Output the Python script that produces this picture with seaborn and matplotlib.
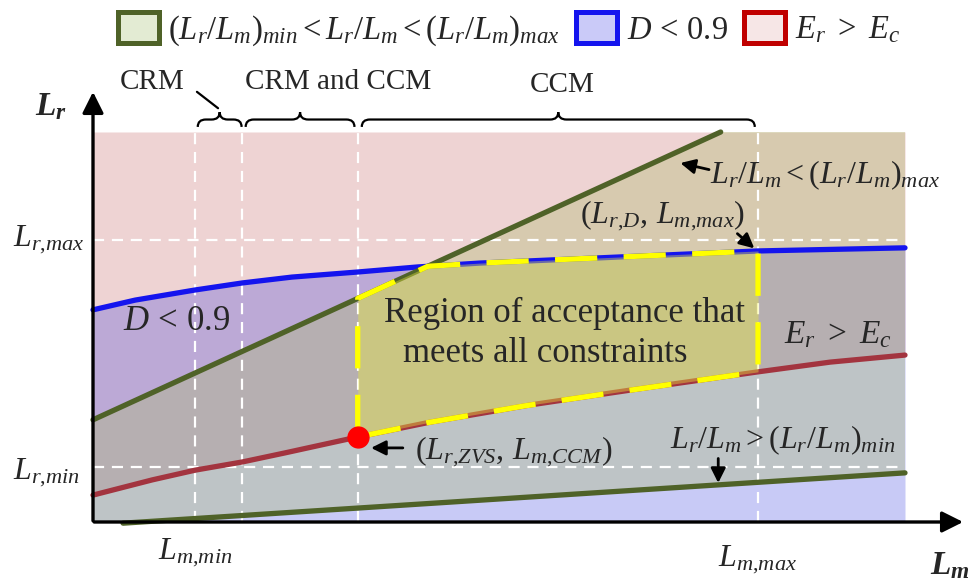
import numpy as np
import pandas as pd
import matplotlib
matplotlib.use("Agg")
import matplotlib.pyplot as plt
from matplotlib.patches import Patch, PathPatch
from matplotlib.path import Path
import seaborn as sns

# boundary curves, Lm on x and Lr on y (normalised units, design box is 0..10)
lm_blue = [0.0, 0.52, 1.26, 1.84, 2.45, 3.26, 4.0, 4.77, 8.19, 10.0]
lr_blue = [5.44, 5.69, 5.95, 6.13, 6.28, 6.41, 6.54, 6.64, 6.95, 7.03]   # D < 0.9

lm_red = [0.0, 0.73, 1.26, 1.84, 2.36, 3.26, 4.15, 5.38, 6.61, 8.19, 9.08, 10.0]
lr_red = [0.69, 1.08, 1.33, 1.54, 1.77, 2.18, 2.56, 3.0, 3.38, 3.85, 4.10, 4.28]  # Er > Ec

lm_gmax = [0.0, 7.73]
lr_gmax = [2.62, 10.0]                                          # (Lr/Lm)max
lm_gmin = [0.37, 10.0]
lr_gmin = [-0.03, 1.26]                                         # (Lr/Lm)min

lm_marks = [1.26, 1.84, 3.26, 8.19]   # Lm,min | CRM/CCM edge | Lm,CCM | Lm,max
lr_marks = [1.41, 7.23]               # Lr,min, Lr,max
box = 10.0

sns.set_theme(style="white")
plt.rcParams.update({
    "font.family": ["Liberation Serif", "DejaVu Serif"],
    "mathtext.fontset": "custom",
    "mathtext.rm": "Liberation Serif",
    "mathtext.it": "Liberation Serif:italic",
    "mathtext.bf": "Liberation Serif:bold",
    "mathtext.bfit": "Liberation Serif:italic:bold",
})

GREEN = "#4F6228"
BLUE = "#1414EE"
RED = "#A3343F"

fig = plt.figure(figsize=(9.68, 5.83), dpi=100)
ax = fig.add_axes([0, 0, 1, 1])
ax.set_xlim(-93 / 81.2, (968 - 93) / 81.2)
ax.set_ylim(-(583 - 522) / 39, 522 / 39)
ax.axis("off")

# shaded constraint regions (layered with alpha)
ax.fill_between(lm_red, lr_red, box, color=(170/255, 35/255, 35/255), alpha=0.2, lw=0, zorder=1)
ax.fill_between(lm_blue, 0, lr_blue, color=(39/255, 47/255, 223/255), alpha=0.25, lw=0, zorder=1)
gx = np.concatenate([[0.0], lm_gmin, [box, lm_gmax[1], lm_gmax[0]]])
gy = np.concatenate([[0.0], lr_gmin, [box, lr_gmax[1], lr_gmax[0]]])
ax.fill(gx, gy, color=(173/255, 187/255, 108/255), alpha=0.34, lw=0, zorder=1)

# white dashed guides
for y in lr_marks:
    ax.plot([0, box], [y, y], color="white", lw=1.6, ls=(0, (5, 3.5)), zorder=2)
for x in lm_marks:
    ax.plot([x, x], [0, box], color="white", lw=1.6, ls=(0, (5, 3.5)), zorder=2)

# curves
curves = [(lm_blue, lr_blue, BLUE), (lm_red, lr_red, RED),
          (lm_gmax, lr_gmax, GREEN), (lm_gmin, lr_gmin, GREEN)]
for xs, ys, c in curves:
    df = pd.DataFrame({"Lm": xs, "Lr": ys})
    sns.lineplot(data=df, x="Lm", y="Lr", color=c, lw=3.8, ax=ax, zorder=3,
                 solid_capstyle="round", solid_joinstyle="round")

# region of acceptance
grid = np.linspace(lm_marks[2], lm_marks[3], 300)
low = np.interp(grid, lm_red, lr_red)
up = np.minimum(np.interp(grid, lm_blue, lr_blue), np.interp(grid, lm_gmax, lr_gmax))
ax.fill_between(grid, low, up, color=(234/255, 233/255, 61/255), alpha=0.4, lw=0, zorder=4)
bx = np.concatenate([[grid[0]], grid, grid[::-1]])
by = np.concatenate([[low[0]], up, low[::-1]])
ax.plot(bx, by, color="#FFFF00", lw=3.8, ls=(0, (8, 5)), zorder=5)
ax.plot(lm_marks[2], np.interp(lm_marks[2], lm_red, lr_red), "o", color="#FF0000",
        ms=15, zorder=6)

# axes arrows
ax.annotate("", xy=(0, 11.1), xytext=(0, -0.04),
            arrowprops=dict(arrowstyle="-|>", color="black", lw=2.4, mutation_scale=32), zorder=7)
ax.annotate("", xy=(10.75, 0), xytext=(-0.02, 0),
            arrowprops=dict(arrowstyle="-|>", color="black", lw=2.4, mutation_scale=32), zorder=7)
ax.text(-0.52, 10.64, r"$\mathbfit{L}_{\mathbfit{r}}$", fontsize=24, ha="center", va="center")
ax.text(10.55, -1.13, r"$\mathbfit{L}_{\mathbfit{m}}$", fontsize=24, ha="center", va="center")

# axis marks
fs = 23
ax.text(-0.99, lr_marks[1], r"$L_{r{,}max}$", fontsize=fs, ha="left", va="center")
ax.text(-0.99, lr_marks[0] - 0.15, r"$L_{r{,}min}$", fontsize=fs, ha="left", va="center")
ax.text(lm_marks[0], -0.79, r"$L_{m{,}min}$", fontsize=fs, ha="center", va="center")
ax.text(lm_marks[3], -0.97, r"$L_{m{,}max}$", fontsize=fs, ha="center", va="center")


# braces for the operating modes
def brace(x0, x1, yb=10.13, h=0.38, r=0.1):
    xm, ym = (x0 + x1) / 2, yb + h / 2
    verts = [(x0, yb), (x0, ym), (x0 + r, ym), (xm - r, ym), (xm, ym), (xm, yb + h),
             (xm, ym), (xm + r, ym), (x1 - r, ym), (x1, ym), (x1, yb)]
    codes = [Path.MOVETO, Path.CURVE3, Path.CURVE3, Path.LINETO, Path.CURVE3, Path.CURVE3,
             Path.CURVE3, Path.CURVE3, Path.LINETO, Path.CURVE3, Path.CURVE3]
    ax.add_patch(PathPatch(Path(verts, codes), fc="none", ec="black", lw=1.6, zorder=7))
    return xm, yb + h


tip1 = brace(lm_marks[0] + 0.03, lm_marks[1] - 0.01)
brace(lm_marks[1] + 0.04, lm_marks[2] - 0.04)
brace(lm_marks[2] + 0.05, lm_marks[3] - 0.04)
ax.plot([1.28, tip1[0] - 0.02], [11.03, tip1[1] + 0.1], color="black", lw=1.6)
ax.text(0.73, 11.28, "CRM", fontsize=21, ha="center", va="center")
ax.text(3.02, 11.28, "CRM and CCM", fontsize=21, ha="center", va="center")
ax.text(5.78, 11.2, "CCM", fontsize=21, ha="center", va="center")

# annotations
arrow = dict(arrowstyle="-|>", color="black", lw=2.0, mutation_scale=22)
ax.text(7.6, 8.9, r"$L_r/L_m{<}(L_r/L_m)_{max}$", fontsize=fs, ha="left", va="center")
ax.annotate("", xy=(7.2, 9.22), xytext=(7.62, 9.02), arrowprops=arrow, zorder=7)
ax.text(7.01, 7.85, r"$(L_{r{,}D},\, L_{m{,}max})$", fontsize=fs, ha="center", va="center")
ax.annotate("", xy=(8.17, 6.97), xytext=(7.91, 7.44), arrowprops=arrow, zorder=7)
ax.text(5.81, 5.36, "Region of acceptance that", fontsize=25, ha="center", va="center", zorder=7)
ax.text(5.57, 4.33, "meets all constraints", fontsize=25, ha="center", va="center", zorder=7)
ax.text(1.03, 5.13, r"$D\,<\,0.9$", fontsize=25, ha="center", va="center", zorder=7)
ax.text(9.17, 4.79, r"$E_r\ >\ E_c$", fontsize=24, ha="center", va="center", zorder=7)
ax.text(3.97, 1.8, r"$(L_{r{,}ZVS},\, L_{m{,}CCM})$", fontsize=fs, ha="left", va="center", zorder=7)
ax.annotate("", xy=(3.39, 1.9), xytext=(3.85, 1.9), arrowprops=arrow, zorder=7)
ax.text(8.5, 2.1, r"$L_r/L_m{>}(L_r/L_m)_{min}$", fontsize=fs, ha="center", va="center", zorder=7)
ax.annotate("", xy=(7.7, 0.93), xytext=(7.7, 1.7), arrowprops=arrow, zorder=7)

# legend
handles = [
    Patch(facecolor="#E3EBD3", edgecolor=GREEN, lw=3.6,
          label=r"$(L_r/L_m)_{min}{<}L_r/L_m{<}(L_r/L_m)_{max}$"),
    Patch(facecolor="#CACAF8", edgecolor=BLUE, lw=3.6, label=r"$D\,<\,0.9$"),
    Patch(facecolor="#F6E6E6", edgecolor="#C00000", lw=3.6, label=r"$E_r\ >\ E_c$"),
]
fig.legend(handles=handles, loc="center", bbox_to_anchor=(509 / 968, 1 - 30 / 583),
           ncol=3, frameon=False, fontsize=23.5, handlelength=1.25, handleheight=1.05,
           handletextpad=0.3, columnspacing=0.5)

fig.savefig("out.png", dpi=100)
